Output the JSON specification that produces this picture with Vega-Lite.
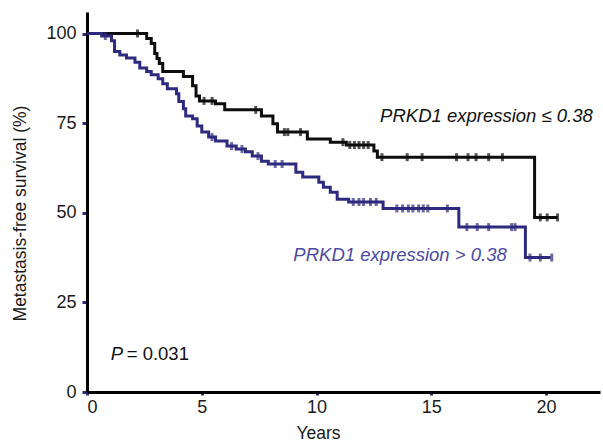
{
  "$schema": "https://vega.github.io/schema/vega-lite/v6.json",
  "width": 513,
  "height": 380,
  "autosize": "none",
  "padding": {"left": 87, "top": 12, "right": 3, "bottom": 51},
  "background": "white",
  "config": {
    "view": {"stroke": null},
    "font": "Liberation Sans",
    "axis": {"grid": false, "domainColor": "#000000", "domainWidth": 3, "tickColor": "#2e2a7e", "tickWidth": 3, "labelFont": "Liberation Sans", "labelFontSize": 18, "labelColor": "#1a1a1a", "titleFont": "Liberation Sans", "titleFontSize": 17.5, "titleFontWeight": "normal", "titleColor": "#1a1a1a"}
  },
  "datasets": {
    "curves": [
      {"group": "low", "t": 0, "s": 100}, {"group": "low", "t": 2.6, "s": 98.6}, {"group": "low", "t": 2.8, "s": 97.2}, {"group": "low", "t": 2.95, "s": 94.4}, {"group": "low", "t": 3.05, "s": 93}, {"group": "low", "t": 3.15, "s": 91.6}, {"group": "low", "t": 3.3, "s": 89.4}, {"group": "low", "t": 4.2, "s": 88}, {"group": "low", "t": 4.6, "s": 85.4}, {"group": "low", "t": 4.75, "s": 82.6}, {"group": "low", "t": 4.9, "s": 81.2}, {"group": "low", "t": 5.6, "s": 80.4}, {"group": "low", "t": 6.0, "s": 78.7}, {"group": "low", "t": 7.6, "s": 77}, {"group": "low", "t": 8.1, "s": 74.8}, {"group": "low", "t": 8.3, "s": 72.5}, {"group": "low", "t": 9.6, "s": 70.6}, {"group": "low", "t": 10.6, "s": 69.7}, {"group": "low", "t": 11.3, "s": 68.9}, {"group": "low", "t": 12.5, "s": 67.2}, {"group": "low", "t": 12.65, "s": 65.5}, {"group": "low", "t": 19.5, "s": 48.7}, {"group": "low", "t": 20.5, "s": 48.7},
      {"group": "high", "t": 0, "s": 100}, {"group": "high", "t": 0.64, "s": 99.3}, {"group": "high", "t": 1.07, "s": 98}, {"group": "high", "t": 1.2, "s": 95}, {"group": "high", "t": 1.43, "s": 94}, {"group": "high", "t": 1.72, "s": 93.2}, {"group": "high", "t": 2.09, "s": 92}, {"group": "high", "t": 2.3, "s": 90.4}, {"group": "high", "t": 2.6, "s": 89.4}, {"group": "high", "t": 2.8, "s": 88.5}, {"group": "high", "t": 3.1, "s": 87.4}, {"group": "high", "t": 3.3, "s": 86}, {"group": "high", "t": 3.5, "s": 84.6}, {"group": "high", "t": 3.9, "s": 83.2}, {"group": "high", "t": 4.0, "s": 81}, {"group": "high", "t": 4.2, "s": 79}, {"group": "high", "t": 4.3, "s": 77}, {"group": "high", "t": 4.6, "s": 76.2}, {"group": "high", "t": 4.8, "s": 74.2}, {"group": "high", "t": 5.0, "s": 72.5}, {"group": "high", "t": 5.3, "s": 71.1}, {"group": "high", "t": 5.6, "s": 70}, {"group": "high", "t": 6.1, "s": 68.6}, {"group": "high", "t": 6.5, "s": 67.8}, {"group": "high", "t": 6.9, "s": 67}, {"group": "high", "t": 7.2, "s": 65.8}, {"group": "high", "t": 7.6, "s": 64.4}, {"group": "high", "t": 7.9, "s": 63.6}, {"group": "high", "t": 9.1, "s": 61.3}, {"group": "high", "t": 9.4, "s": 60}, {"group": "high", "t": 10.1, "s": 58.5}, {"group": "high", "t": 10.3, "s": 57.1}, {"group": "high", "t": 10.6, "s": 55.7}, {"group": "high", "t": 10.9, "s": 53.8}, {"group": "high", "t": 11.4, "s": 53}, {"group": "high", "t": 12.9, "s": 51.2}, {"group": "high", "t": 16.2, "s": 46}, {"group": "high", "t": 19.1, "s": 37.5}, {"group": "high", "t": 20.2, "s": 37.5}
    ],
    "censors": [
      {"group": "low", "t": 2.2, "s": 100}, {"group": "low", "t": 5.1, "s": 81.2}, {"group": "low", "t": 5.45, "s": 81.2}, {"group": "low", "t": 7.35, "s": 78.7}, {"group": "low", "t": 8.6, "s": 72.5}, {"group": "low", "t": 8.75, "s": 72.5}, {"group": "low", "t": 9.3, "s": 72.5}, {"group": "low", "t": 11.15, "s": 69.7}, {"group": "low", "t": 11.45, "s": 68.9}, {"group": "low", "t": 11.65, "s": 68.9}, {"group": "low", "t": 11.85, "s": 68.9}, {"group": "low", "t": 12.05, "s": 68.9}, {"group": "low", "t": 12.25, "s": 68.9}, {"group": "low", "t": 12.85, "s": 65.5}, {"group": "low", "t": 13.95, "s": 65.5}, {"group": "low", "t": 14.6, "s": 65.5}, {"group": "low", "t": 16.1, "s": 65.5}, {"group": "low", "t": 16.6, "s": 65.5}, {"group": "low", "t": 16.95, "s": 65.5}, {"group": "low", "t": 17.5, "s": 65.5}, {"group": "low", "t": 18.1, "s": 65.5}, {"group": "low", "t": 19.75, "s": 48.7}, {"group": "low", "t": 20.05, "s": 48.7}, {"group": "low", "t": 20.5, "s": 48.7},
      {"group": "high", "t": 0.8, "s": 99.3}, {"group": "high", "t": 5.45, "s": 71.1}, {"group": "high", "t": 6.3, "s": 68.6}, {"group": "high", "t": 6.75, "s": 67.8}, {"group": "high", "t": 7.45, "s": 65.8}, {"group": "high", "t": 8.2, "s": 63.6}, {"group": "high", "t": 8.5, "s": 63.6}, {"group": "high", "t": 11.6, "s": 53}, {"group": "high", "t": 11.85, "s": 53}, {"group": "high", "t": 12.05, "s": 53}, {"group": "high", "t": 12.35, "s": 53}, {"group": "high", "t": 12.6, "s": 53}, {"group": "high", "t": 13.5, "s": 51.2}, {"group": "high", "t": 13.75, "s": 51.2}, {"group": "high", "t": 14.0, "s": 51.2}, {"group": "high", "t": 14.2, "s": 51.2}, {"group": "high", "t": 14.45, "s": 51.2}, {"group": "high", "t": 14.65, "s": 51.2}, {"group": "high", "t": 14.85, "s": 51.2}, {"group": "high", "t": 15.7, "s": 51.2}, {"group": "high", "t": 16.55, "s": 46}, {"group": "high", "t": 17.0, "s": 46}, {"group": "high", "t": 17.5, "s": 46}, {"group": "high", "t": 18.5, "s": 46}, {"group": "high", "t": 18.65, "s": 46}, {"group": "high", "t": 19.3, "s": 37.5}, {"group": "high", "t": 19.75, "s": 37.5}, {"group": "high", "t": 20.25, "s": 37.5}
    ],
    "labels": [
      {"id": "low", "t": 12.77, "s": 76.9, "label": "PRKD1 expression ≤ 0.38"},
      {"id": "high", "t": 8.99, "s": 38.1, "label": "PRKD1 expression > 0.38"},
      {"id": "p", "t": 1.03, "s": 10.5, "label": "P"},
      {"id": "pv", "t": 1.73, "s": 10.5, "label": "= 0.031"}
    ]
  },
  "encoding": {
    "x": {"field": "t", "type": "quantitative", "scale": {"domain": [0, 22.35], "nice": false, "zero": false},
      "axis": {"values": [0, 5, 10, 15, 20], "tickSize": 3, "labelPadding": 3, "title": "Years", "titleX": 231, "titleY": 46, "titleBaseline": "alphabetic", "titleAnchor": null, "titleAlign": "center"}},
    "y": {"field": "s", "type": "quantitative", "scale": {"domain": [0, 106], "nice": false},
      "axis": {"values": [0, 25, 50, 75, 100], "tickSize": 5, "labelPadding": 6, "title": "Metastasis-free survival (%)", "titleX": -62, "titleY": 201, "titleAngle": -90, "titleBaseline": "alphabetic", "titleAlign": "center", "titleAnchor": null}}
  },
  "layer": [
    {
      "data": {"name": "curves"},
      "mark": {"type": "line", "interpolate": "step-after", "strokeWidth": 3},
      "encoding": {
        "color": {"field": "group", "type": "nominal", "scale": {"domain": ["low", "high"], "range": ["#0d0d0d", "#2e2a7e"]}, "legend": null}
      }
    },
    {
      "data": {"name": "censors"},
      "mark": {"type": "tick", "orient": "vertical", "size": 8, "thickness": 3},
      "encoding": {
        "color": {"field": "group", "type": "nominal", "legend": null}
      }
    },
    {
      "data": {"name": "labels"},
      "transform": [{"filter": "datum.id === 'low' || datum.id === 'p'"}],
      "mark": {"type": "text", "align": "left", "baseline": "middle", "fontStyle": "italic", "fontSize": 18.5, "font": "Liberation Sans", "color": "#111111"},
      "encoding": {"text": {"field": "label"}}
    },
    {
      "data": {"name": "labels"},
      "transform": [{"filter": "datum.id === 'high'"}],
      "mark": {"type": "text", "align": "left", "baseline": "middle", "fontStyle": "italic", "fontSize": 18.5, "font": "Liberation Sans", "color": "#4b4aa0"},
      "encoding": {"text": {"field": "label"}}
    },
    {
      "data": {"name": "labels"},
      "transform": [{"filter": "datum.id === 'pv'"}],
      "mark": {"type": "text", "align": "left", "baseline": "middle", "fontSize": 18.5, "font": "Liberation Sans", "color": "#111111"},
      "encoding": {"text": {"field": "label"}}
    }
  ]
}
